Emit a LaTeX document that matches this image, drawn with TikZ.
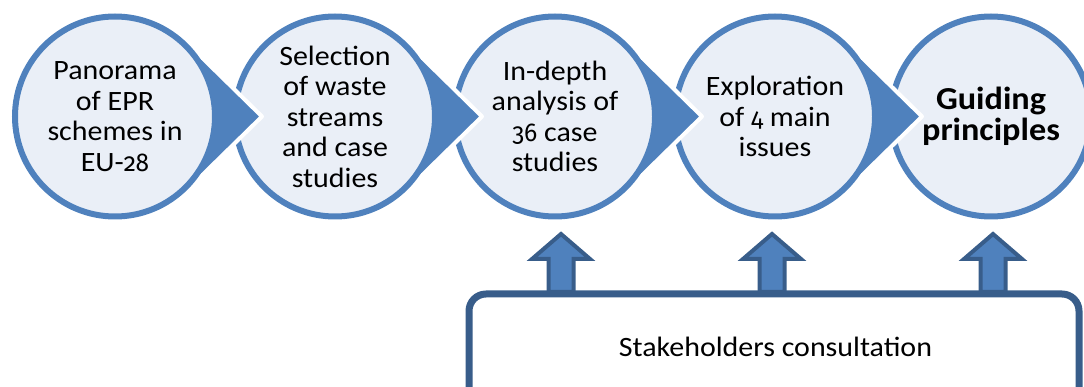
\documentclass[tikz,border=0pt]{standalone}
\usepackage{fontspec}
\setmainfont{Carlito}[FakeStretch=1.07]
\newfontfamily\osf{Fira Sans}[Numbers=OldStyle, Scale=0.92, FakeStretch=0.95]
\usetikzlibrary{calc}
\definecolor{cblue}{RGB}{79,129,189}
\definecolor{cdark}{RGB}{56,93,138}
\definecolor{cfill}{RGB}{234,239,247}
\newcommand\stagepointer[1]{%
  \filldraw[pointer] ($(#1)+(72,-73.5)$) -- ($(#1)+(147,0)$) -- ($(#1)+(72,73.5)$) -- (#1) -- cycle;}
\newcommand\blockup[1]{%
  \filldraw[uparrow] ($(#1)+(-12.5,0)$) -- ($(#1)+(-12.5,-33)$) -- ($(#1)+(-29,-33)$)
    -- ($(#1)+(0,-58)$) -- ($(#1)+(29,-33)$) -- ($(#1)+(12.5,-33)$) -- ($(#1)+(12.5,0)$) -- cycle;}
\newcommand\num[1]{{\osf #1}}
\begin{document}
\begin{tikzpicture}[x=1pt,y=-1pt,
  stage/.style={circle, minimum size=200pt, inner sep=0pt, fill=cfill, draw=cblue,
    line width=6pt, align=center, text=black, font=\fontsize{28}{30.5}\selectfont},
  pointer/.style={fill=cblue, draw=white, line width=4pt, line join=round},
  uparrow/.style={fill=cblue, draw=cdark, line width=4pt, line join=miter},
  basebox/.style={draw=cdark, fill=white, line width=7pt, rounded corners=17pt,
    minimum width=610pt, minimum height=150pt, anchor=north},
]
\useasboundingbox (0,0) rectangle (1084,387);
\clip (0,0) rectangle (1084,387);

\coordinate (p1) at (115,116.5);
\coordinate (p2) at (335,116.5);
\coordinate (p3) at (555,116.5);
\coordinate (p4) at (775,116.5);
\coordinate (p5) at (991,116.5);

\node[stage, font=\fontsize{32}{31}\selectfont\bfseries] (c5) at (p5) {Guiding\\principles};
\stagepointer{p4}
\node[stage] (c4) at (p4) {Exploration\\of \num{4} main\\issues};
\stagepointer{p3}
\node[stage] (c3) at (p3) {In-depth\\analysis of\\\num{36} case\\studies};
\stagepointer{p2}
\node[stage] (c2) at (p2) {Selection\\of waste\\streams\\and case\\studies};
\stagepointer{p1}
\node[stage] (c1) at (p1) {Panorama\\of EPR\\schemes in\\EU-\num{28}};

\coordinate (a3) at (561,292);
\coordinate (a4) at (772,292);
\coordinate (a5) at (993,292);
\blockup{a3}
\blockup{a4}
\blockup{a5}

\node[basebox] (sc) at (774,290.5) {};
\node[font=\fontsize{28}{30.5}\selectfont, inner sep=0pt] (sclabel) at (775.5,347) {Stakeholders consultation};
\end{tikzpicture}
\end{document}
